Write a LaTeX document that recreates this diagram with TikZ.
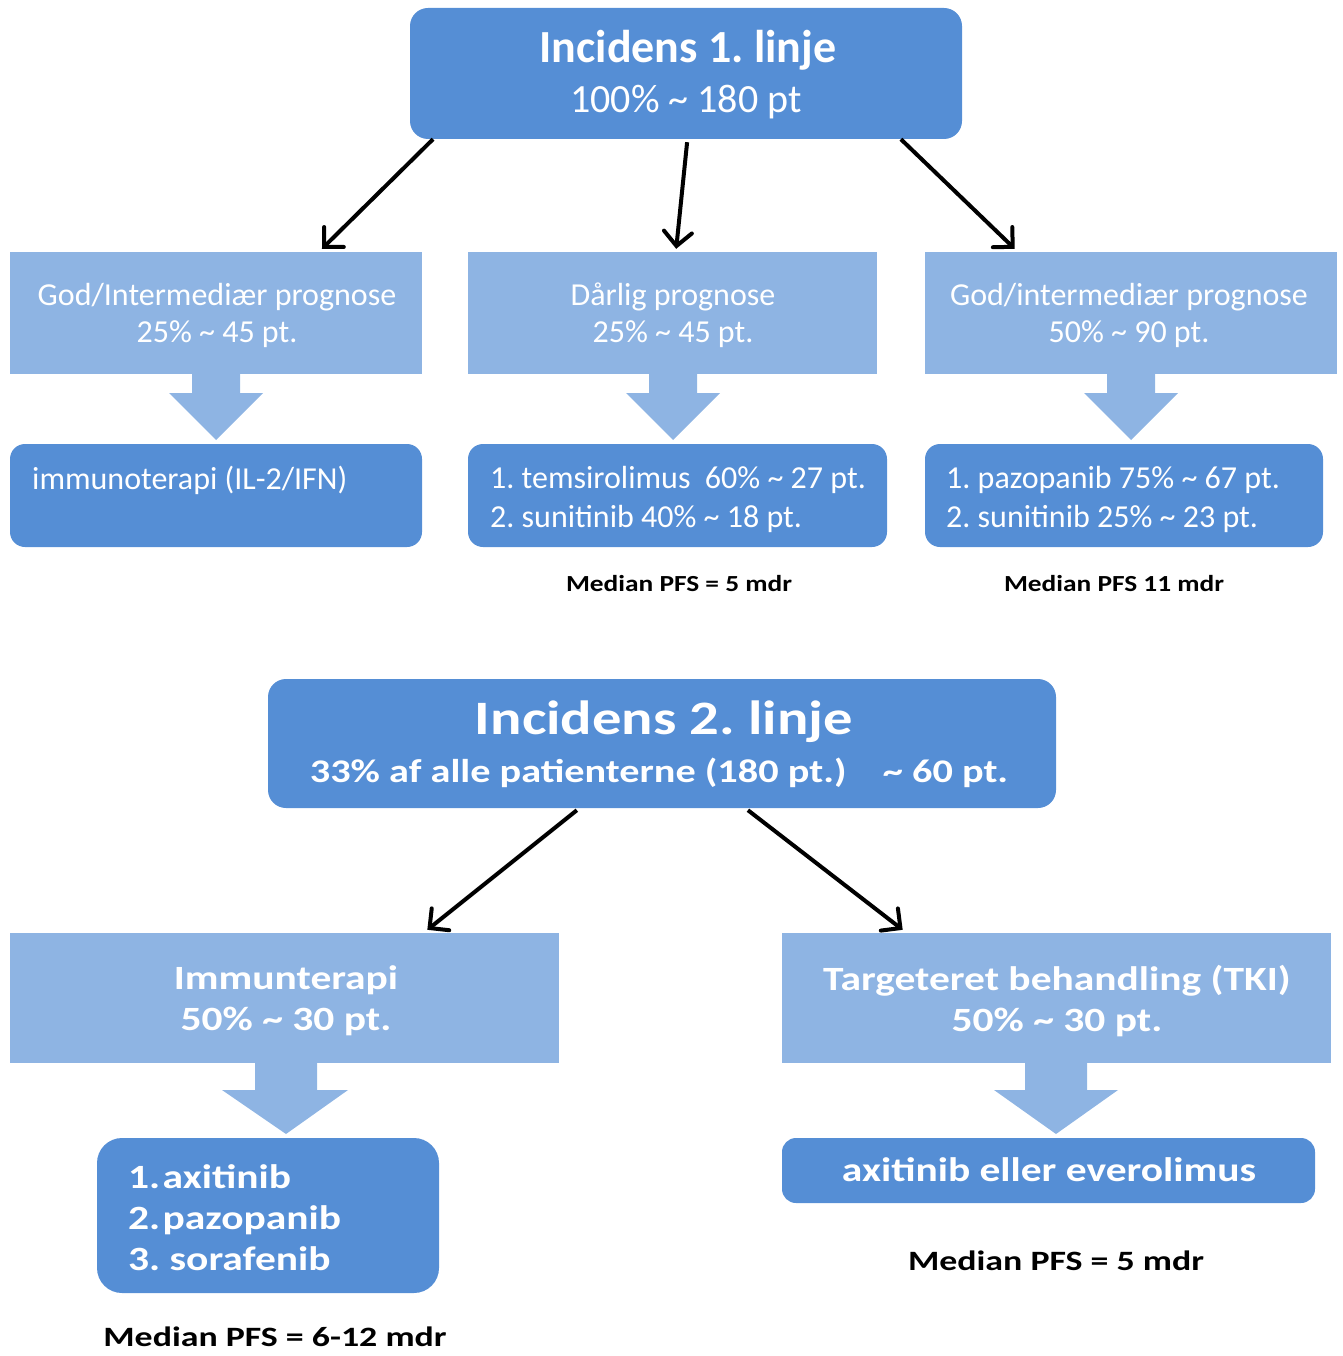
\documentclass[tikz,border=0pt]{standalone}
\usepackage{fontspec}
\usepackage{graphicx}
\setmainfont{Carlito}
\usetikzlibrary{arrows.meta,calc}
\definecolor{darkblue}{HTML}{558ED5}
\definecolor{lightblue}{HTML}{8EB4E3}
\newcommand{\fs}[2]{\fontsize{#1}{#2}\selectfont}
\newcommand{\widetxt}[1]{\scalebox{1.22}[1]{#1}}
\begin{document}
\begin{tikzpicture}[x=1pt,y=-1pt,
  darkbox/.style={fill=darkblue,draw=none,rounded corners=18pt,inner sep=0pt},
  lightbox/.style={fill=lightblue,draw=none,inner sep=0pt},
  wtext/.style={text=white,inner sep=0pt,align=center},
  btext/.style={text=black,inner sep=0pt,align=center,font=\bfseries},
  conn/.style={line width=4pt,-{Straight Barb[length=14pt,width=28pt,line cap=round]}},
  blockarrow/.style={fill=lightblue,draw=none}]
\useasboundingbox (0,0) rectangle (1342,1356);
% ---- top section ----
\node[darkbox,minimum width=552pt,minimum height=131pt] (t1) at (686,73.5) {};
\node[wtext,font=\fs{46}{50}\bfseries] (t1a) at (688,50) {Incidens 1.\ linje};
\node[wtext,font=\fs{40}{44}] (t1b) at (686,102) {100\% \char"7E\ 180 pt};

\node[lightbox,minimum width=412pt,minimum height=122pt] (a1) at (216,313) {};
\node[lightbox,minimum width=409pt,minimum height=122pt] (b1) at (672.5,313) {};
\node[lightbox,minimum width=412pt,minimum height=122pt] (c1) at (1131,313) {};
\node[wtext,font=\fs{32}{37}] (a1t) at (217,315) {God/Intermediær prognose\\25\% \char"7E\ 45 pt.};
\node[wtext,font=\fs{32}{37}] (b1t) at (673,315) {Dårlig prognose\\25\% \char"7E\ 45 pt.};
\node[wtext,font=\fs{32}{37}] (c1t) at (1129,315) {God/intermediær prognose\\50\% \char"7E\ 90 pt.};

\filldraw[blockarrow] (192,373) -- (240,373) -- (240,393) -- (263,393) -- (216,440) -- (169,393) -- (192,393) -- cycle;
\filldraw[blockarrow] (649,373) -- (697,373) -- (697,393) -- (720,393) -- (673,440) -- (626,393) -- (649,393) -- cycle;
\filldraw[blockarrow] (1107,373) -- (1155,373) -- (1155,393) -- (1178,393) -- (1131,440) -- (1084,393) -- (1107,393) -- cycle;

\node[darkbox,rounded corners=15pt,minimum width=412pt,minimum height=103pt] (a2) at (216,495.5) {};
\node[darkbox,rounded corners=15pt,minimum width=419pt,minimum height=103pt] (b2) at (677.5,495.5) {};
\node[darkbox,rounded corners=15pt,minimum width=398pt,minimum height=103pt] (c2) at (1124,495.5) {};
\node[wtext,anchor=west,font=\fs{32}{39}] (a2t) at (32,480) {immunoterapi (IL-2/IFN)};
\node[wtext,anchor=west,align=left,font=\fs{32}{39}] (b2t) at (490,499) {1.\ temsirolimus\ \ 60\% \char"7E\ 27 pt.\\2.\ sunitinib 40\% \char"7E\ 18 pt.};
\node[wtext,anchor=west,align=left,font=\fs{32}{39}] (c2t) at (946,499) {1.\ pazopanib 75\% \char"7E\ 67 pt.\\2.\ sunitinib 25\% \char"7E\ 23 pt.};

\node[btext] (m1) at (679,584) {\fs{23}{26}\bfseries\scalebox{1.19}[1]{Median PFS = 5 mdr}};
\node[btext] (m2) at (1114,584) {\fs{23}{26}\bfseries\scalebox{1.19}[1]{Median PFS 11 mdr}};

\draw[conn] ($(t1.south west)!0.042!(t1.south east)$) -- ($(a1.north west)!0.757!(a1.north east)+(0,-3)$);
\draw[conn] ($(t1.south west)!0.502!(t1.south east)+(0,3)$) -- ($(b1.north west)!0.509!(b1.north east)+(0,-3)$);
\draw[conn] ($(t1.south west)!0.889!(t1.south east)$) -- ($(c1.north west)!0.218!(c1.north east)+(0,-3)$);

% ---- bottom section ----
\node[darkbox,minimum width=788pt,minimum height=129pt] (t2) at (662,743.5) {};
\node[wtext] (t2a) at (664,722) {\fs{48}{52}\bfseries\widetxt{Incidens 2.\ linje}};
\node[wtext] (t2b) at (659,773) {\fs{33}{36}\bfseries\widetxt{33\% af alle patienterne (180 pt.)\ \ \ \ \char"7E\ 60 pt.}};

\node[lightbox,minimum width=549pt,minimum height=130pt] (d1) at (284.5,998) {};
\node[lightbox,minimum width=549pt,minimum height=130pt] (e1) at (1056.5,998) {};
\node[wtext,font=\fs{34}{41}\bfseries] (d1t) at (286,1001) {\widetxt{Immunterapi}\\\widetxt{50\% \char"7E\ 30 pt.}};
\node[wtext,font=\fs{34}{41}\bfseries] (e1t) at (1057,1001) {\widetxt{Targeteret behandling (TKI)}\\\widetxt{50\% \char"7E\ 30 pt.}};

\filldraw[blockarrow] (255,1063) -- (317,1063) -- (317,1090) -- (348,1090) -- (286,1134) -- (222,1090) -- (255,1090) -- cycle;
\filldraw[blockarrow] (1025,1063) -- (1087,1063) -- (1087,1090) -- (1118,1090) -- (1056,1134) -- (994,1090) -- (1025,1090) -- cycle;

\node[darkbox,rounded corners=25pt,minimum width=342pt,minimum height=155pt] (d2) at (268,1215.5) {};
\node[darkbox,rounded corners=14pt,minimum width=533pt,minimum height=65pt] (e2) at (1048.5,1170.5) {};
\node[wtext,anchor=west,align=left,font=\fs{34}{41}\bfseries] (d2t) at (128,1218) {\widetxt{1.\kern2pt axitinib}\\\widetxt{2.\kern2pt pazopanib}\\\widetxt{3.\ sorafenib}};
\node[wtext] (e2t) at (1049,1170) {\fs{34}{38}\bfseries\widetxt{axitinib eller everolimus}};

\node[btext] (m3) at (1056,1261) {\fs{28}{32}\bfseries\scalebox{1.28}[1]{Median PFS = 5 mdr}};
\node[btext] (m4) at (275,1337) {\fs{28}{32}\bfseries\scalebox{1.28}[1]{Median PFS = 6-12 mdr}};

\draw[conn] ($(t2.south west)!0.392!(t2.south east)+(0,2)$) -- ($(d1.north west)!0.760!(d1.north east)+(0,-3)$);
\draw[conn] ($(t2.south west)!0.609!(t2.south east)+(0,2)$) -- ($(e1.north west)!0.220!(e1.north east)+(0,-3)$);
\end{tikzpicture}
\end{document}
